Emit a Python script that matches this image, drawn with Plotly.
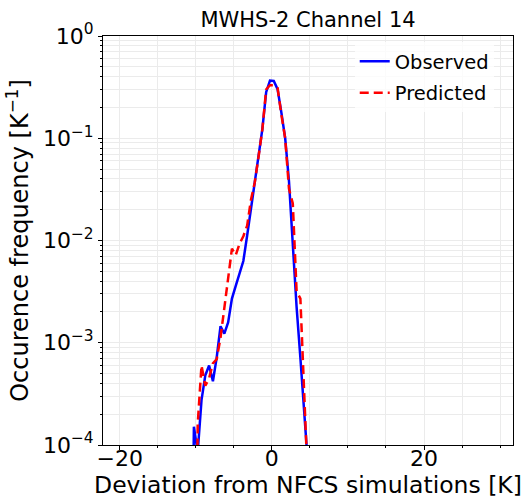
"""Histogram of deviations from NFCS simulations, MWHS-2 channel 14."""

import plotly.graph_objects as go

# bin centres [K]
DEVIATION = [
    -10.75, -10.25, -9.75, -9.25, -8.75, -8.25, -7.75, -7.25, -6.75, -6.25,
    -5.75, -5.25, -4.75, -4.25, -3.75, -3.25, -2.75, -2.25, -1.75, -1.25,
    -0.75, -0.25, 0.25, 0.75, 1.25, 1.75, 2.25, 2.75, 3.25, 3.75, 4.25, 4.75,
]

# occurrence frequency [K^-1]
OBSERVED = [
    1e-7, 1.51e-4, 8.5e-5, 2.75e-4, 4.8e-4, 6.0e-4, 4.2e-4, 7.2e-4, 1.45e-3, 1.23e-3,
    1.58e-3, 2.7e-3, 3.6e-3, 4.9e-3, 6.3e-3, 0.0112, 0.0209, 0.0355, 0.0646, 0.123,
    0.282, 0.366, 0.363, 0.302, 0.178, 0.100, 0.038, 8.9e-3, 2.24e-3, 7.1e-4, 2.24e-4, 6.3e-5,
]

PREDICTED = [
    1e-7, 1e-7, 1.6e-4, 6.0e-4, 3.8e-4, 4.5e-4, 6.3e-4, 6.9e-4, 1.12e-3, 2.2e-3,
    4.5e-3, 8.3e-3, 7.2e-3, 9.3e-3, 0.011, 0.014, 0.025, 0.037, 0.066, 0.122,
    0.30, 0.33, 0.33, 0.31, 0.17, 0.10, 0.032, 0.023, 3.2e-3, 2.7e-3, 3.2e-4, 4e-5,
]

Y_TICKS = [1e-4, 1e-3, 1e-2, 1e-1, 1]
Y_TICKTEXT = ["10<sup>−4</sup>", "10<sup>−3</sup>", "10<sup>−2</sup>", "10<sup>−1</sup>", "10<sup>0</sup>"]
X_TICKS = [-20, 0, 20]
X_TICKTEXT = ["−20", "0", "20"]

FONT = "DejaVu Sans, sans-serif"
GRID = "#ebebeb"

# 2..9 x 10^k minor ticks for the log axis
y_minor = [m * 10.0 ** e for e in range(-4, 0) for m in range(2, 10)]

fig = go.Figure()
fig.add_trace(
    go.Scatter(
        x=DEVIATION, y=OBSERVED, name="Observed", mode="lines", legendgroup="obs",
        line=dict(color="blue", width=2.5),
    )
)
fig.add_trace(
    go.Scatter(
        x=DEVIATION, y=PREDICTED, name="Predicted", mode="lines", legendgroup="pred",
        line=dict(color="red", width=2.5, dash="9px,5px"),
    )
)

axis_common = dict(
    showline=True, linecolor="black", linewidth=1, mirror=True,
    ticks="outside", ticklen=4, tickcolor="black",
    gridcolor=GRID, gridwidth=1, zeroline=False, automargin=False,
    tickfont=dict(size=22, color="black"),
)

fig.update_xaxes(
    range=[-22.2, 31.7], tickvals=X_TICKS, ticktext=X_TICKTEXT, ticklabelstandoff=-10,
    minor=dict(dtick=5, tick0=0, ticks="outside", ticklen=2, showgrid=True, gridcolor=GRID),
    title=dict(text="Deviation from NFCS simulations [K]", font=dict(size=23.5)),
    **axis_common,
)
fig.update_yaxes(
    type="log", range=[-4, 0], tickvals=Y_TICKS, ticktext=Y_TICKTEXT,
    minor=dict(tickvals=y_minor, ticks="outside", ticklen=2, showgrid=True, gridcolor=GRID),
    title=dict(text="Occurence frequency [K<sup>−1</sup>]", font=dict(size=24), standoff=7),
    **axis_common,
)

fig.update_layout(
    width=528, height=499,
    margin=dict(l=103, r=15, t=36, b=54),
    paper_bgcolor="white", plot_bgcolor="white",
    font=dict(family=FONT, color="black"),
    title=dict(
        text="MWHS-2 Channel 14", font=dict(size=21), x=0.5, xref="paper",
        y=1 - 20 / 499, yref="container", yanchor="middle",
    ),
    legend=dict(
        x=0.953, y=0.985, xanchor="right", yanchor="top", tracegroupgap=3,
        bgcolor="rgba(255,255,255,0.8)", font=dict(size=19.5),
    ),
)

fig.write_html(
    "out.html",
    config={"displayModeBar": False},
    post_script="document.body.style.margin = '0';",
)
